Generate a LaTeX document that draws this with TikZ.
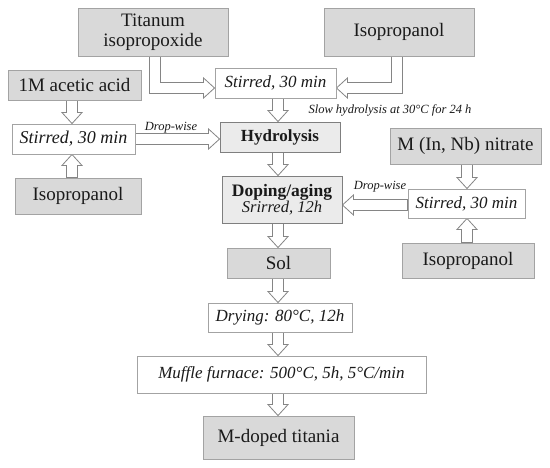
\documentclass[tikz,border=0pt]{standalone}
\usepackage{fontspec}
\setmainfont{Liberation Serif}
\usetikzlibrary{calc,backgrounds}
\definecolor{boxgray}{HTML}{D9D9D9}
\definecolor{stagegray}{HTML}{EBEBEB}
\definecolor{edgegray}{HTML}{A3A3A3}
\definecolor{stageedge}{HTML}{7F7F7F}
\definecolor{arrgray}{HTML}{858585}
\definecolor{txt}{HTML}{1A1A1A}
\tikzset{
  base/.style={draw=edgegray, line width=0.9pt, inner sep=0pt, align=center, text=txt},
  graybox/.style={base, fill=boxgray, font=\fontsize{19}{20}\selectfont},
  whitebox/.style={base, fill=white, font=\fontsize{17}{19}\selectfont\itshape},
  stagebox/.style={base, draw=stageedge, fill=stagegray},
  barrow/.style={draw=arrgray, fill=white, line width=0.8pt, line join=miter},
  smalllabel/.style={font=\fontsize{12.5}{14}\selectfont\itshape, text=txt, inner sep=0pt},
}
\newcommand\blockarr[2]{%
  \coordinate (ba-s) at #1;
  \coordinate (ba-t) at #2;
  \coordinate (ba-b) at ($(ba-t)!11pt!(ba-s)$);
  \draw[barrow] ($(ba-s)!5.5pt!90:(ba-t)$) -- ($(ba-b)!5.5pt!90:(ba-t)$)
    -- ($(ba-b)!10pt!90:(ba-t)$) -- (ba-t) -- ($(ba-b)!10pt!-90:(ba-t)$)
    -- ($(ba-b)!5.5pt!-90:(ba-t)$) -- ($(ba-s)!5.5pt!-90:(ba-t)$) -- cycle;}
\begin{document}
\begin{tikzpicture}[x=1pt,y=-1pt]
\useasboundingbox (0,0) rectangle (550,467);
\begin{scope}[on background layer]
  \fill[white] (0,0) rectangle (550,467);
\end{scope}
% column / routing coordinates
\coordinate (cM) at (278,0);
\coordinate (cL) at (72,0);
\coordinate (cR) at (467,0);
\coordinate (e1) at (155,88);
\coordinate (e2) at (397,88);
\coordinate (dl) at (0,139);
\coordinate (dr) at (0,205);
% nodes
\node[graybox, minimum width=150pt, minimum height=48pt] (tit) at (153,32) {Titanum\\isopropoxide};
\node[graybox, minimum width=150pt, minimum height=48pt] (iso1) at (399,32) {Isopropanol};
\node[whitebox, minimum width=121pt, minimum height=30pt] (st) at (275.5,83) {Stirred, 30 min};
\node[graybox, minimum width=133pt, minimum height=30pt] (ace) at (74.5,85) {1M acetic acid};
\node[whitebox, minimum width=123pt, minimum height=30pt, font=\fontsize{18}{20}\selectfont\itshape] (stL) at (73.5,139) {Stirred, 30 min};
\node[graybox, minimum width=126pt, minimum height=36pt] (isoL) at (78,196) {Isopropanol};
\node[stagebox, minimum width=120pt, minimum height=30pt, font=\fontsize{17}{20}\selectfont\bfseries] (hyd) at (280,137) {Hydrolysis};
\node[stagebox, minimum width=120pt, minimum height=47pt] (dop) at (282,199.5)
  {\fontsize{17.5}{21}\selectfont\bfseries Doping/aging\\\fontsize{16.5}{21}\selectfont\mdseries\itshape Srirred, 12h};
\node[graybox, minimum width=151pt, minimum height=36pt] (nit) at (465.5,146) {M (In, Nb) nitrate};
\node[whitebox, minimum width=117pt, minimum height=29pt] (stR) at (466.5,203.5) {Stirred, 30 min};
\node[graybox, minimum width=132pt, minimum height=35pt] (isoR) at (468,260.5) {Isopropanol};
\node[graybox, minimum width=103pt, minimum height=30pt] (sol) at (278.5,263) {Sol};
\node[whitebox, minimum width=144pt, minimum height=29pt] (dry) at (280,317.5) {Drying: 80°C, 12h};
\node[whitebox, minimum width=289pt, minimum height=37pt] (muf) at (281.5,374.5) {Muffle furnace: 500°C, 5h, 5°C/min};
\node[graybox, minimum width=151pt, minimum height=43pt] (mdop) at (278.5,437.5) {M-doped titania};
% labels
\node[smalllabel] (lbl1) at (171,128) {Drop-wise};
\node[smalllabel] (lbl2) at (380,187) {Drop-wise};
\node[smalllabel] (lbl3) at (390,110) {Slow hydrolysis at 30°C for 24 h};
% arrows
\begin{scope}[on background layer]
  % elbow from titanium isopropoxide
  \draw[barrow] ($(tit.south -| e1)+(-5.5,0)$) -- ($(e1)+(-5.5,5.5)$)
    -- ($(st.west |- e1)+(-11,5.5)$) -- ($(st.west |- e1)+(-11,10)$)
    -- (st.west |- e1) -- ($(st.west |- e1)+(-11,-10)$)
    -- ($(st.west |- e1)+(-11,-5.5)$) -- ($(e1)+(5.5,-5.5)$)
    -- ($(tit.south -| e1)+(5.5,0)$) -- cycle;
  % elbow from isopropanol
  \draw[barrow] ($(iso1.south -| e2)+(5.5,0)$) -- ($(e2)+(5.5,5.5)$)
    -- ($(st.east |- e2)+(11,5.5)$) -- ($(st.east |- e2)+(11,10)$)
    -- (st.east |- e2) -- ($(st.east |- e2)+(11,-10)$)
    -- ($(st.east |- e2)+(11,-5.5)$) -- ($(e2)+(-5.5,-5.5)$)
    -- ($(iso1.south -| e2)+(-5.5,0)$) -- cycle;
  % main column
  \blockarr{(st.south -| cM)}{(hyd.north -| cM)}
  \blockarr{(hyd.south -| cM)}{(dop.north -| cM)}
  \blockarr{(dop.south -| cM)}{(sol.north -| cM)}
  \blockarr{(sol.south -| cM)}{(dry.north -| cM)}
  \blockarr{(dry.south -| cM)}{(muf.north -| cM)}
  \blockarr{(muf.south -| cM)}{(mdop.north -| cM)}
  % left column
  \blockarr{(ace.south -| cL)}{(stL.north -| cL)}
  \blockarr{(isoL.north -| cL)}{(stL.south -| cL)}
  \blockarr{(stL.east |- dl)}{(hyd.west |- dl)}
  % right column
  \blockarr{(nit.south -| cR)}{(stR.north -| cR)}
  \blockarr{(isoR.north -| cR)}{(stR.south -| cR)}
  \blockarr{(stR.west |- dr)}{(dop.east |- dr)}
\end{scope}
\end{tikzpicture}
\end{document}
